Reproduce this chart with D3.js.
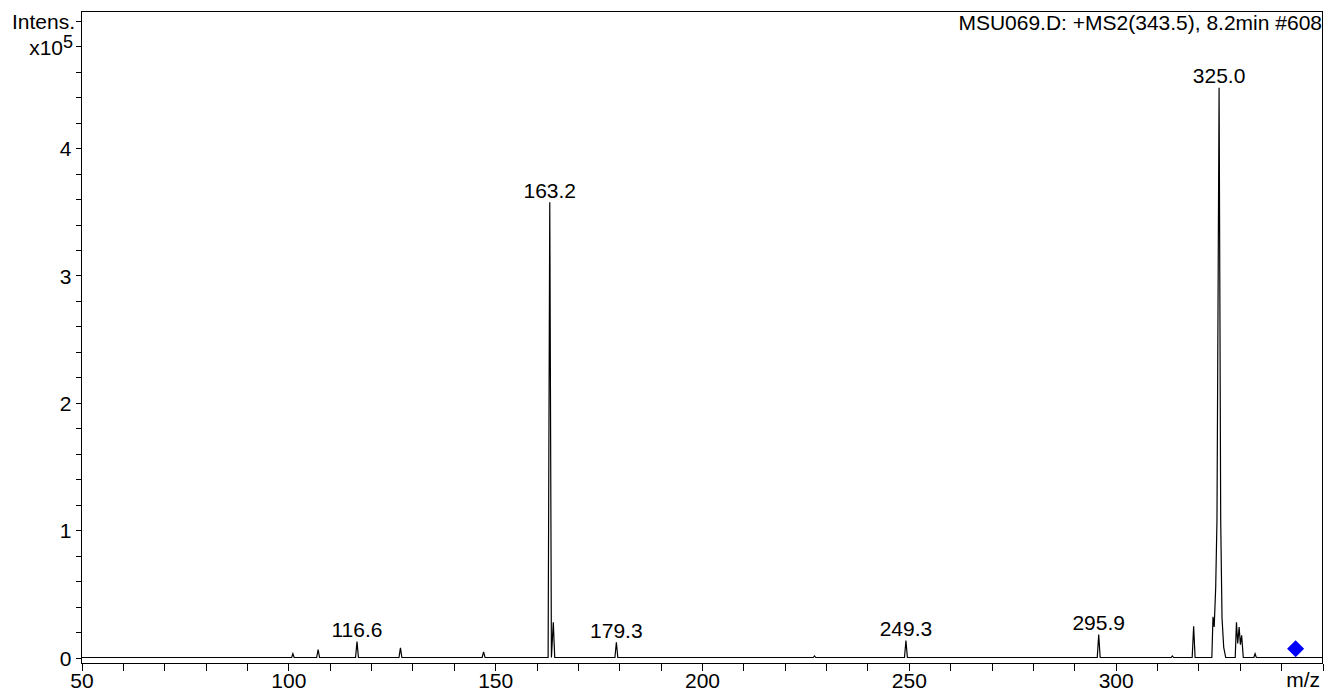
<!DOCTYPE html>
<html>
<head>
<meta charset="utf-8">
<script src="https://cdn.jsdelivr.net/npm/d3@7"></script>
<style>
  html, body { margin: 0; padding: 0; background: #fff; }
  svg { display: block; }
  text { font-family: "Liberation Sans", Arial, sans-serif; fill: #000; }
</style>
</head>
<body>
<svg id="chart" width="1325" height="692"></svg>
<script>
// ---- data (intensity in units of 1e5) ----
const title = "MSU069.D: +MS2(343.5), 8.2min #608";
const xAxisTitle = "m/z";
const yAxisTitle = "Intens.";
const yAxisScale = "x10";
const yAxisExponent = "5";
const xDomain = [50, 350];
const yDomain = [-0.047, 5.073];
const xTickValues = [50, 60, 70, 80, 90, 100, 110, 120, 130, 140, 150, 160, 170, 180, 190, 200, 210, 220, 230, 240, 250, 260, 270, 280, 290, 300, 310, 320, 330, 340, 350];
const xTickLabels = [50, 100, 150, 200, 250, 300];
const yTickValues = [0, 0.2, 0.4, 0.6, 0.8, 1, 1.2, 1.4, 1.6, 1.8, 2, 2.2, 2.4, 2.6, 2.8, 3, 3.2, 3.4, 3.6, 3.8, 4, 4.2, 4.4, 4.6, 4.8, 5];
const yTickLabels = [0, 1, 2, 3, 4];

// profile spectrum [m/z, intensity]
const profile = [
  [50, 0],
  [100.8, 0], [101.1, 0.03], [101.4, 0],
  [106.85, 0], [107.2, 0.063], [107.55, 0],
  [116.25, 0], [116.6, 0.125], [116.95, 0],
  [126.75, 0], [127.1, 0.075], [127.45, 0],
  [146.85, 0], [147.2, 0.045], [147.55, 0],
  [162.8, 0], [163.2, 3.575], [163.6, 0], [164.05, 0.277], [164.4, 0],
  [178.95, 0], [179.3, 0.12], [179.65, 0],
  [226.9, 0], [227.2, 0.012], [227.5, 0],
  [248.95, 0], [249.3, 0.134], [249.65, 0],
  [295.55, 0], [295.9, 0.18], [296.25, 0],
  [313.4, 0], [313.7, 0.012], [314.0, 0],
  [318.5, 0], [318.85, 0.245], [319.2, 0],
  [323.25, 0], [323.53, 0.32], [323.82, 0.24], [324.18, 0.55], [324.49, 1.08],
  [325.0, 4.475],
  [325.39, 1.08], [325.71, 0.31], [326.12, 0.08], [326.6, 0],
  [328.9, 0], [329.2, 0.276], [329.5, 0.11], [329.85, 0.24], [330.15, 0.1], [330.45, 0.175], [330.85, 0],
  [333.4, 0], [333.7, 0.03], [334.0, 0],
  [350, 0]
];

const labelledPeaks = [
  [116.6, 0.125],
  [163.2, 3.575],
  [179.3, 0.12],
  [249.3, 0.134],
  [295.9, 0.18],
  [325.0, 4.475]
];

const precursorMz = 343.5;
const precursorMarkerIntensity = 0.068;

// ---- drawing ----
const svg = d3.select("#chart");
const plotLeft = 81.5, plotRight = 1322.5, plotTop = 11.5, plotBottom = 663.5;
const x = d3.scaleLinear().domain(xDomain).range([plotLeft, plotRight]);
const y = d3.scaleLinear().domain(yDomain).range([plotBottom, plotTop]);
const fontSize = 21;
const fontFamily = '"Liberation Sans", Arial, sans-serif';

// frame
svg.append("rect")
  .attr("x", plotLeft).attr("y", plotTop)
  .attr("width", plotRight - plotLeft).attr("height", plotBottom - plotTop)
  .attr("fill", "none").attr("stroke", "#000").attr("stroke-width", 1)
  .attr("shape-rendering", "crispEdges");

// x axis
const xAxis = d3.axisBottom(x)
  .tickValues(xTickValues)
  .tickSize(7)
  .tickPadding(3)
  .tickFormat(d => xTickLabels.includes(d) ? String(d) : "");
const gx = svg.append("g").attr("transform", `translate(0,${plotBottom})`).call(xAxis);
gx.select(".domain").remove();
gx.selectAll("line").attr("stroke", "#000").attr("shape-rendering", "crispEdges");
gx.selectAll("text").attr("font-size", fontSize).style("font-family", fontFamily).attr("fill", "#000");

// y axis
const yAxis = d3.axisLeft(y)
  .tickValues(yTickValues)
  .tickSize(6)
  .tickPadding(4)
  .tickFormat(d => yTickLabels.some(v => Math.abs(v - d) < 1e-9) ? String(Math.round(d)) : "");
const gy = svg.append("g").attr("transform", `translate(${plotLeft},0)`).call(yAxis);
gy.select(".domain").remove();
gy.selectAll("line").attr("stroke", "#000").attr("shape-rendering", "crispEdges");
gy.selectAll("text").attr("font-size", fontSize).attr("dy", "0.36em").style("font-family", fontFamily).attr("fill", "#000");

// axis titles
svg.append("text")
  .attr("x", 75).attr("y", 28.5)
  .attr("text-anchor", "end").attr("font-size", fontSize)
  .text(yAxisTitle);
const sc = svg.append("text")
  .attr("x", 73).attr("y", 55)
  .attr("text-anchor", "end").attr("font-size", fontSize);
sc.append("tspan").text(yAxisScale);
sc.append("tspan").attr("font-size", 18).attr("dy", -7).text(yAxisExponent);

svg.append("text")
  .attr("x", 1320).attr("y", 687)
  .attr("text-anchor", "end").attr("font-size", fontSize)
  .text(xAxisTitle);

// title
svg.append("text")
  .attr("x", 1322).attr("y", 30)
  .attr("text-anchor", "end").attr("font-size", fontSize)
  .text(title);

// spectrum
const line = d3.line().x(d => x(d[0])).y(d => y(d[1]));
svg.append("path")
  .datum(profile)
  .attr("d", line)
  .attr("fill", "none")
  .attr("stroke", "#000")
  .attr("stroke-width", 1.2)
  .attr("stroke-linejoin", "miter");

// peak labels
svg.selectAll("text.peak")
  .data(labelledPeaks)
  .join("text")
  .attr("class", "peak")
  .attr("x", d => x(d[0]))
  .attr("y", d => y(d[1]) - 4.5)
  .attr("text-anchor", "middle")
  .attr("font-size", fontSize)
  .text(d => d[0].toFixed(1));

// precursor marker
svg.append("path")
  .attr("d", d3.symbol(d3.symbolDiamond2, 185)())
  .attr("transform", `translate(${x(precursorMz)},${y(precursorMarkerIntensity)})`)
  .attr("fill", "#0000ff");
</script>
</body>
</html>
